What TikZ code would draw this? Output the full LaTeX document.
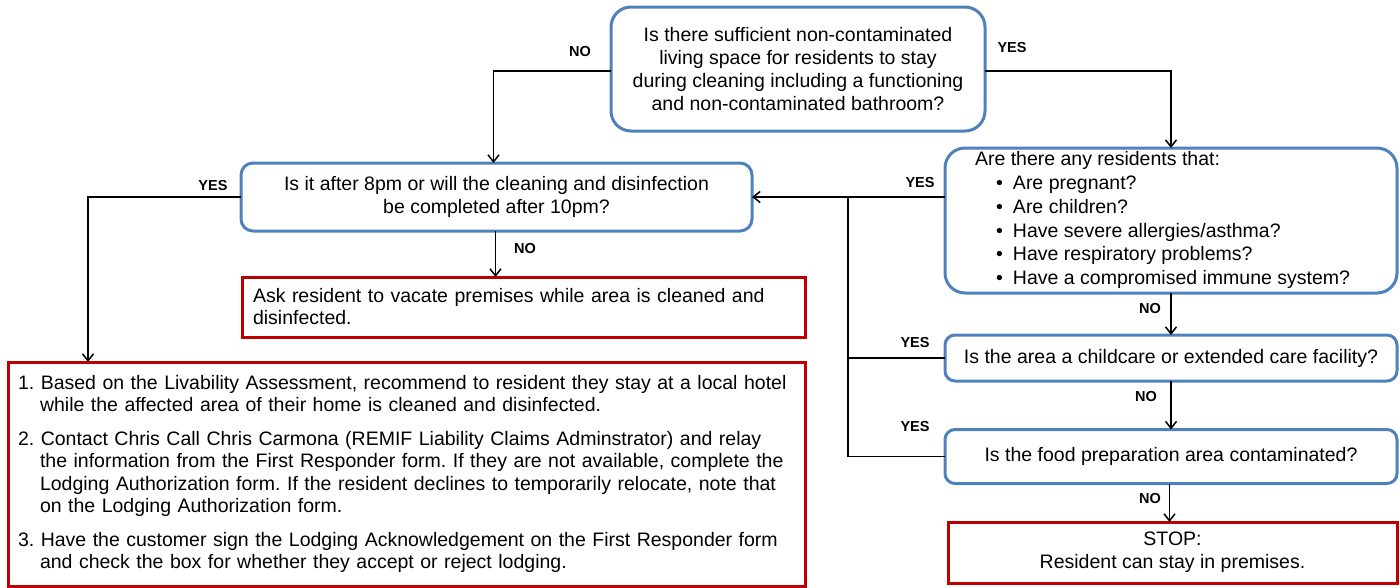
\documentclass[tikz,border=0pt]{standalone}
\usepackage{fontspec}
\setmainfont{Liberation Sans}
\usetikzlibrary{arrows.meta,calc}
\definecolor{qblue}{RGB}{79,129,189}
\definecolor{qred}{RGB}{192,0,0}
\frenchspacing
\newcommand{\bul}{\hspace*{21pt}\makebox[17pt][l]{•}}
\newcommand{\hang}{\hspace*{22pt}}
\begin{document}
\begin{tikzpicture}[x=1pt,y=-1pt,
  every node/.style={inner sep=0pt,outer sep=0pt},
  body/.style={font=\fontsize{19.5}{23.3}\selectfont},
  question/.style={body,draw=qblue,line width=3pt,fill=white,align=center},
  action/.style={body,draw=qred,line width=3pt,fill=white},
  tag/.style={font=\fontsize{14.5}{16}\selectfont\bfseries},
  link/.style={line width=1.5pt},
  flow/.style={link,-{Straight Barb[length=7pt,width=11pt,line width=1.5pt]}}]
\useasboundingbox (0,0) rectangle (1400,587);

% decision boxes
\node[question,rounded corners=20pt,minimum width=374pt,minimum height=124pt] (A) at (798,69)
  {Is there sufficient non-contaminated\\living space for residents to stay\\during cleaning including a functioning\\and non-contaminated bathroom?};
\node[question,rounded corners=12pt,minimum width=511pt,minimum height=68pt] (B) at (496.5,197)
  {Is it after 8pm or will the cleaning and disinfection\\be completed after 10pm?};
\node[question,rounded corners=20pt,minimum width=452pt,minimum height=145pt,
      font=\fontsize{19.5}{23.8}\selectfont] (C) at (1171,220.5)
  {\makebox[446pt][l]{\hspace*{27pt}\begin{tabular}{@{}l@{}}Are there any residents that:\\
   \bul Are pregnant?\\
   \bul Are children?\\
   \bul Have severe allergies/asthma?\\
   \bul Have respiratory problems?\\
   \bul Have a compromised immune system?\end{tabular}}};
\node[question,rounded corners=10pt,minimum width=452pt,minimum height=46pt] (F) at (1171,358)
  {Is the area a childcare or extended care facility?};
\node[question,rounded corners=10pt,minimum width=452pt,minimum height=54pt] (G) at (1171,456.5)
  {Is the food preparation area contaminated?};

% outcome boxes
\node[action,minimum width=563pt,minimum height=60pt,align=left,text width=541pt,
      font=\fontsize{19.5}{22}\selectfont] (D) at (523.5,307)
  {Ask resident to vacate premises while area is cleaned and\\disinfected.};
\node[action,minimum width=797pt,minimum height=224pt,align=left,text width=777pt,
      font=\fontsize{19.5}{22.5}\selectfont] (E) at (406.5,474)
  {1. Based on the Livability Assessment, recommend to resident they stay at a local hotel\\
   \hang while the affected area of their home is cleaned and disinfected.\\[11pt]
   2. Contact Chris Call Chris Carmona (REMIF Liability Claims Adminstrator) and relay\\
   \hang the information from the First Responder form. If they are not available, complete the\\
   \hang Lodging Authorization form. If the resident declines to temporarily relocate, note that\\
   \hang on the Lodging Authorization form.\\[11pt]
   3. Have the customer sign the Lodging Acknowledgement on the First Responder form\\
   \hang and check the box for whether they accept or reject lodging.};
\node[action,minimum width=449pt,minimum height=61pt,align=center] (H) at (1172.5,552.5)
  {STOP:\\Resident can stay in premises.};

% junction of the YES branches on the right
\coordinate (J) at (848,197);

% connectors
\draw[flow] ([yshift=-2pt]A.west) -| ([xshift=-3pt]B.north);
\draw[flow] ([yshift=-2pt]A.east) -| (C.north);
\draw[flow] (B.west) -| ([xshift=80pt]E.north west);
\draw[flow] ([xshift=-1pt]B.south) -- ([xshift=-1pt]B.south |- D.north);
\draw[flow] (B.east -| C.west) -- (B.east);
\draw[link] (G.west) -| (J);
\draw[link] (F.west) -- (F.west -| J);
\draw[flow] (C.south) -- (F.north);
\draw[flow] (F.south) -- (G.north);
\draw[flow] ([xshift=-1.5pt]G.south) -- ([xshift=-1.5pt]G.south |- H.north);

% branch labels
\node[tag] (nA) at (580,52) {NO};
\node[tag] (yA) at (1012,48) {YES};
\node[tag] (yB) at (213,186) {YES};
\node[tag] (nB) at (525,249) {NO};
\node[tag] (yC) at (920,183) {YES};
\node[tag] (nC) at (1150,309) {NO};
\node[tag] (yF) at (915,343) {YES};
\node[tag] (nF) at (1146,397) {NO};
\node[tag] (yG) at (915,427) {YES};
\node[tag] (nG) at (1150,498) {NO};
\end{tikzpicture}
\end{document}
